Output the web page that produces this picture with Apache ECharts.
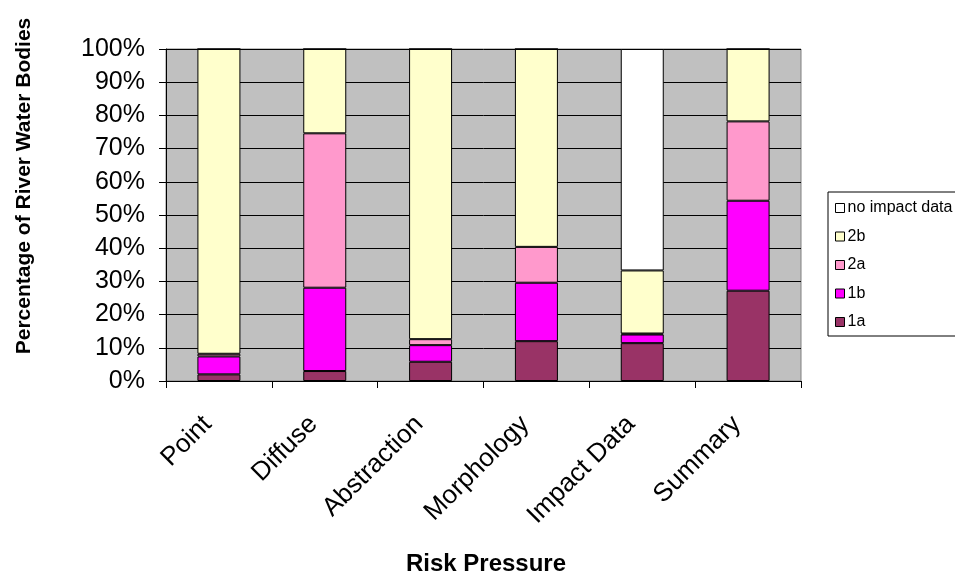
<!DOCTYPE html>
<html><head><meta charset="utf-8">
<script src="https://cdn.jsdelivr.net/npm/echarts@6/dist/echarts.min.js"></script>
<style>html,body{margin:0;padding:0;background:#fff}#c{width:955px;height:579px}</style>
</head><body><div id="c"></div>
<script>
var categories = ['Point','Diffuse','Abstraction','Morphology','Impact Data','Summary'];
var yTicks = [0,10,20,30,40,50,60,70,80,90,100];
var s1a = [2.0, 3.0, 5.8, 12.0, 11.4, 27.2];
var s1b = [5.4, 25.1, 5.0, 17.6, 2.6, 27.1];
var s2a = [0.8, 46.5, 1.8, 10.8, 0.3, 23.9];
var s2b = [91.8, 25.4, 87.4, 59.6, 19.0, 21.8];
var sNo = [0, 0, 0, 0, 66.7, 0];
var seriesNames = ['1a','1b','2a','2b','no impact data'];
var colors = ['#993366','#FF00FF','#FF99CC','#FFFFCC','#FFFFFF'];
var allData = [s1a, s1b, s2a, s2b, sNo];

var font = 'Arial, "Liberation Sans", sans-serif';
var chart = echarts.init(document.getElementById('c'), null, {renderer:'canvas'});
var series = seriesNames.map(function(n,i){
  return {name:n, type:'bar', stack:'t', barWidth:43, data:allData[i],
    itemStyle:{color:colors[i], borderColor:'#000', borderWidth:1}};
});
chart.setOption({
  animation:false,
  grid:{left:166, right:154, top:49, bottom:198, show:true, backgroundColor:'#C0C0C0', borderColor:'#808080', borderWidth:1},
  xAxis:{type:'category', data:categories,
    axisLine:{lineStyle:{color:'#000', width:1}},
    axisTick:{show:true, length:7, lineStyle:{color:'#000'}},
    axisLabel:{rotate:45, fontSize:26, color:'#000', fontFamily:font, margin:28, padding:[0,16,0,0]}},
  yAxis:{type:'value', min:0, max:100, interval:10,
    axisLine:{show:true, lineStyle:{color:'#000'}},
    axisTick:{show:true, length:7, lineStyle:{color:'#000'}},
    splitLine:{lineStyle:{color:'#000', width:1}},
    axisLabel:{fontSize:25, color:'#000', fontFamily:font, margin:21, formatter:function(v){return v+'%';}}},
  legend:{orient:'vertical', left:828, top:192, data:seriesNames.slice().reverse(), icon:'rect',
    itemWidth:9, itemHeight:9, itemGap:12.5, padding:[8,40,6,7],
    borderColor:'#000', borderWidth:1, backgroundColor:'#fff',
    itemStyle:{borderColor:'#000', borderWidth:1},
    textStyle:{fontSize:16, color:'#000', fontFamily:font, padding:[0,0,0,-2]}},
  graphic:[
    {type:'text', x:486, y:564, style:{text:'Risk Pressure', font:'bold 24px '+font, fill:'#000', textAlign:'center', textVerticalAlign:'middle'}},
    {type:'text', x:24, y:186, rotation:Math.PI/2, style:{text:'Percentage of River Water Bodies', font:'bold 21px '+font, fill:'#000', textAlign:'center', textVerticalAlign:'middle'}}
  ],
  series:series
});
</script></body></html>
